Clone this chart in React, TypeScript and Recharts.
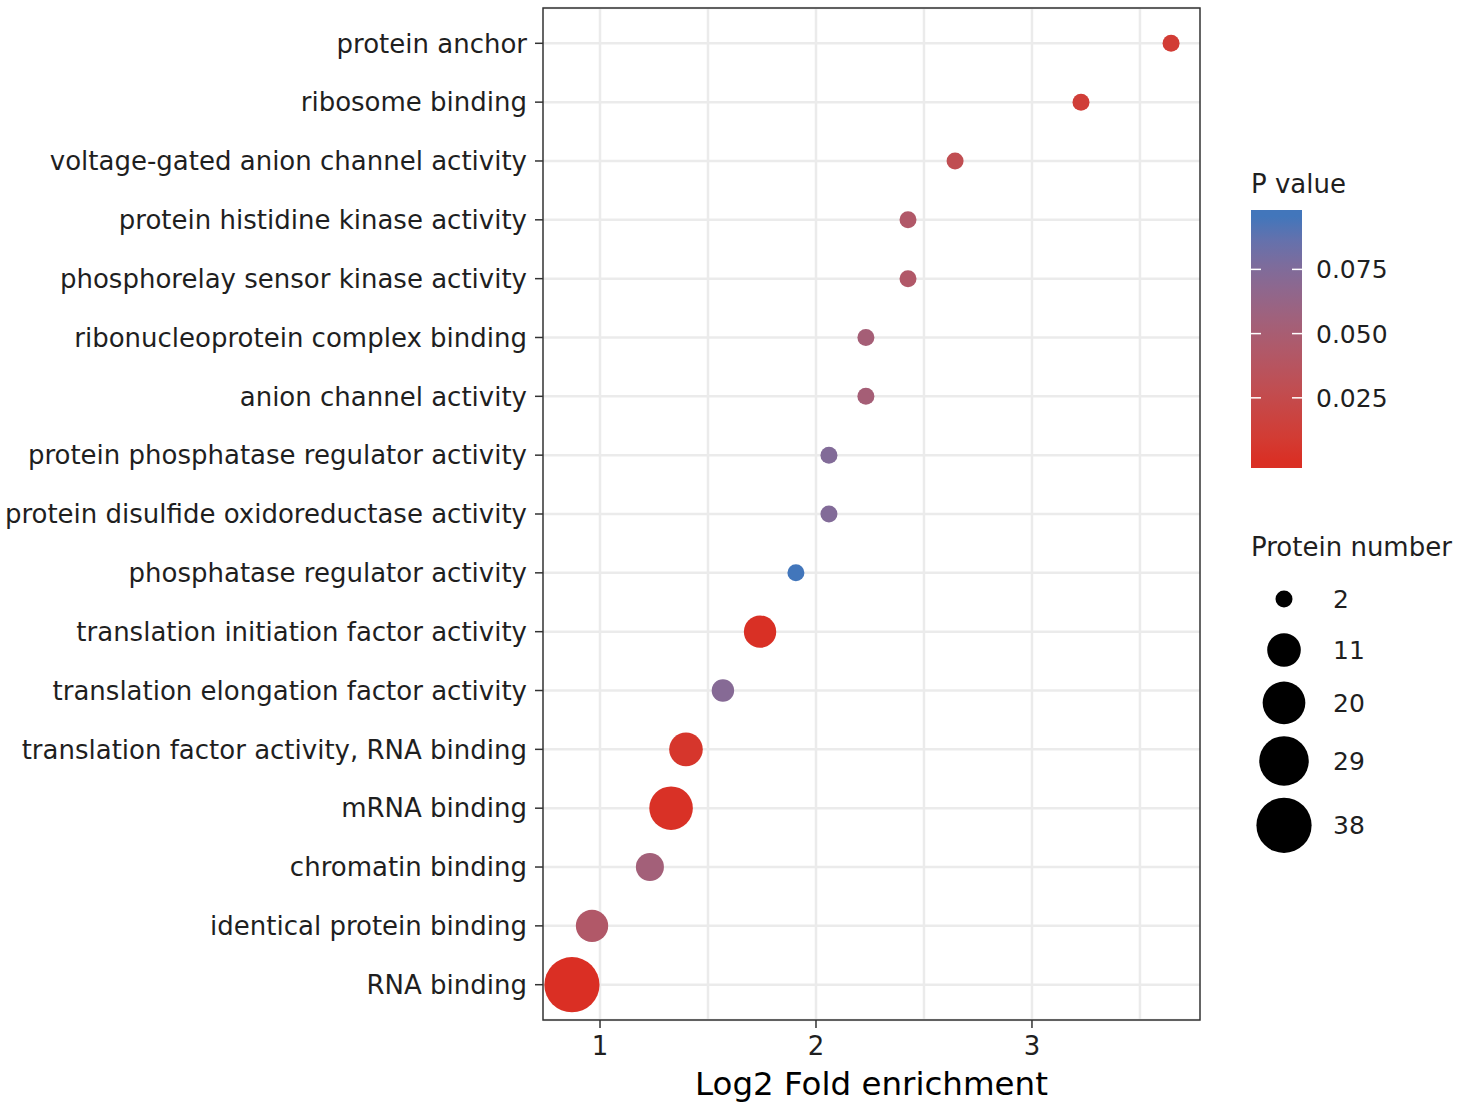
import React from 'react';
import {
  ScatterChart,
  Scatter,
  XAxis,
  YAxis,
  CartesianGrid,
  ReferenceArea,
  Legend,
  Label,
} from 'recharts';

// GO terms, top to bottom
const terms = [
  'protein anchor',
  'ribosome binding',
  'voltage-gated anion channel activity',
  'protein histidine kinase activity',
  'phosphorelay sensor kinase activity',
  'ribonucleoprotein complex binding',
  'anion channel activity',
  'protein phosphatase regulator activity',
  'protein disulfide oxidoreductase activity',
  'phosphatase regulator activity',
  'translation initiation factor activity',
  'translation elongation factor activity',
  'translation factor activity, RNA binding',
  'mRNA binding',
  'chromatin binding',
  'identical protein binding',
  'RNA binding',
];

const log2FoldEnrichment = [
  3.644, 3.227, 2.644, 2.426, 2.426, 2.231, 2.231, 2.06, 2.06, 1.907, 1.741, 1.569,
  1.398, 1.329, 1.231, 0.963, 0.87,
];

const proteinNumber = [2, 2, 2, 2, 2, 2, 2, 2, 2, 2, 10, 4, 11, 21, 7, 10, 38];

const pValue = [
  0.01, 0.012, 0.029, 0.043, 0.043, 0.052, 0.052, 0.074, 0.074, 0.0956, 0.001, 0.072,
  0.005, 0.0015, 0.054, 0.043, 0.0002,
];

const xTicks = [1, 2, 3];
const xGridValues = [1, 1.5, 2, 2.5, 3, 3.5];
const pValueTicks = [0.025, 0.05, 0.075];
const sizeBreaks = [2, 11, 20, 29, 38];

const X_DOMAIN: [number, number] = [0.736, 3.778];
const Y_DOMAIN: [number, number] = [-0.6, terms.length - 1 + 0.6];

const FONT = '"DejaVu Sans", Verdana, sans-serif';
const TEXT = '#1f1f1f';

const chartData = terms.map((term, i) => ({
  term,
  index: i,
  fold: log2FoldEnrichment[i],
  count: proteinNumber[i],
  p: pValue[i],
}));

// size scale: radius grows roughly with count^0.4
const radiusOf = (n: number) => 8.5 * Math.pow(n / 2, 0.4);

// colour scale, interpolated in Lab like ggplot's gradient
const LOW = [218, 47, 36];
const HIGH = [66, 118, 187];
const pMin = Math.min(...pValue);
const pMax = Math.max(...pValue);

const toLin = (c: number) => {
  const v = c / 255;
  return v <= 0.04045 ? v / 12.92 : Math.pow((v + 0.055) / 1.055, 2.4);
};
const fromLin = (c: number) => {
  const v = c <= 0.0031308 ? 12.92 * c : 1.055 * Math.pow(c, 1 / 2.4) - 0.055;
  return Math.round(Math.min(1, Math.max(0, v)) * 255);
};
const rgbToLab = (rgb: number[]) => {
  const [R, G, B] = rgb.map(toLin);
  const X = (0.4124 * R + 0.3576 * G + 0.1805 * B) / 0.95047;
  const Y = 0.2126 * R + 0.7152 * G + 0.0722 * B;
  const Z = (0.0193 * R + 0.1192 * G + 0.9505 * B) / 1.08883;
  const f = (t: number) => (t > 0.008856 ? Math.cbrt(t) : 7.787 * t + 16 / 116);
  return [116 * f(Y) - 16, 500 * (f(X) - f(Y)), 200 * (f(Y) - f(Z))];
};
const labToRgb = ([L, a, b]: number[]) => {
  const fy = (L + 16) / 116;
  const fx = fy + a / 500;
  const fz = fy - b / 200;
  const inv = (t: number) => (t * t * t > 0.008856 ? t * t * t : (t - 16 / 116) / 7.787);
  const X = inv(fx) * 0.95047;
  const Y = inv(fy);
  const Z = inv(fz) * 1.08883;
  const r = 3.2406 * X - 1.5372 * Y - 0.4986 * Z;
  const g = -0.9689 * X + 1.8758 * Y + 0.0415 * Z;
  const bl = 0.0557 * X - 0.204 * Y + 1.057 * Z;
  return `rgb(${fromLin(r)},${fromLin(g)},${fromLin(bl)})`;
};
const LOW_LAB = rgbToLab(LOW);
const HIGH_LAB = rgbToLab(HIGH);
const colorAt = (t: number) => {
  const k = Math.min(1, Math.max(0, t));
  return labToRgb(LOW_LAB.map((v, i) => v + (HIGH_LAB[i] - v) * k));
};
const colorOf = (p: number) => colorAt((p - pMin) / (pMax - pMin));

const renderDot = (props: any) => {
  const { cx, cy, payload } = props;
  return <circle cx={cx} cy={cy} r={radiusOf(payload.count)} fill={colorOf(payload.p)} />;
};

// legend box geometry
const BAR_X = 11;
const BAR_Y = 50;
const BAR_W = 51;
const BAR_H = 258;
const BAR_PAD = BAR_H / 40; // half a bin at each end, ggplot style

const barY = (p: number) =>
  BAR_Y + BAR_H - BAR_PAD - ((p - pMin) / (pMax - pMin)) * (BAR_H - 2 * BAR_PAD);

const LegendPanel = () => {
  const stops = Array.from({ length: 11 }, (_, i) => i / 10);
  const keyHeights = sizeBreaks.map((n) => Math.max(51, 2 * radiusOf(n) + 12));
  let acc = 439 - keyHeights[0] / 2;
  const keyCenters = keyHeights.map((h) => {
    const c = acc + h / 2;
    acc += h;
    return c;
  });
  return (
    <svg width={225} height={720} style={{ fontFamily: FONT, overflow: 'visible' }}>
      <defs>
        <linearGradient id="pgrad" x1="0" y1="1" x2="0" y2="0">
          <stop offset="0" stopColor={colorAt(0)} />
          {stops.map((s) => (
            <stop key={s} offset={0.025 + s * 0.95} stopColor={colorAt(s)} />
          ))}
          <stop offset="1" stopColor={colorAt(1)} />
        </linearGradient>
      </defs>
      <text x={BAR_X} y={33} fontSize={26} fill={TEXT}>
        P value
      </text>
      <rect x={BAR_X} y={BAR_Y} width={BAR_W} height={BAR_H} fill="url(#pgrad)" />
      {pValueTicks.map((t) => (
        <g key={t}>
          <line x1={BAR_X} x2={BAR_X + 10} y1={barY(t)} y2={barY(t)} stroke="#fff" strokeWidth={1.5} />
          <line
            x1={BAR_X + BAR_W - 10}
            x2={BAR_X + BAR_W}
            y1={barY(t)}
            y2={barY(t)}
            stroke="#fff"
            strokeWidth={1.5}
          />
          <text x={76} y={barY(t)} dy="0.36em" fontSize={25} fill={TEXT}>
            {t.toFixed(3)}
          </text>
        </g>
      ))}
      <text x={BAR_X} y={396} fontSize={26} fill={TEXT}>
        Protein number
      </text>
      {sizeBreaks.map((n, i) => (
        <g key={n}>
          <circle cx={44} cy={keyCenters[i]} r={radiusOf(n)} fill="#000" />
          <text x={93} y={keyCenters[i]} dy="0.36em" fontSize={25} fill={TEXT}>
            {n}
          </text>
        </g>
      ))}
    </svg>
  );
};

export default function App() {
  return (
    <div style={{ fontFamily: FONT, background: '#fff', width: 1465, height: 1108 }}>
      <style>{'body{margin:0}'}</style>
      <ScatterChart width={1465} height={1108} margin={{ top: 8, right: 265, bottom: 0, left: 0 }}>
        <CartesianGrid
          stroke="#EBEBEB"
          strokeWidth={2.5}
          verticalValues={xGridValues}
        />
        <XAxis
          type="number"
          dataKey="fold"
          domain={X_DOMAIN}
          allowDataOverflow
          ticks={xTicks}
          height={88}
          axisLine={false}
          tickSize={8}
          tickMargin={9}
          tickLine={{ stroke: '#333', strokeWidth: 1.5 }}
          tick={{ fontSize: 26, fill: TEXT }}
        >
          <Label
            value="Log2 Fold enrichment"
            position="insideBottom"
            offset={13}
            style={{ fontSize: 32.5, fill: '#000' }}
          />
        </XAxis>
        <YAxis
          type="number"
          dataKey="index"
          domain={Y_DOMAIN}
          allowDataOverflow
          reversed
          ticks={terms.map((_, i) => i)}
          interval={0}
          tickFormatter={(i: number) => terms[i] ?? ''}
          width={543}
          axisLine={false}
          tickSize={8}
          tickMargin={8}
          tickLine={{ stroke: '#333', strokeWidth: 1.5 }}
          tick={{ fontSize: 26, fill: TEXT }}
        />
        <Scatter data={chartData} shape={renderDot} isAnimationActive={false} />
        <ReferenceArea
          x1={X_DOMAIN[0]}
          x2={X_DOMAIN[1]}
          y1={Y_DOMAIN[0]}
          y2={Y_DOMAIN[1]}
          fill="none"
          stroke="#333"
          strokeWidth={1.5}
        />
        <Legend
          layout="vertical"
          align="center"
          verticalAlign="middle"
          wrapperStyle={{ left: 1240, top: 160, width: 225, height: 720 }}
          content={() => <LegendPanel />}
        />
      </ScatterChart>
    </div>
  );
}
